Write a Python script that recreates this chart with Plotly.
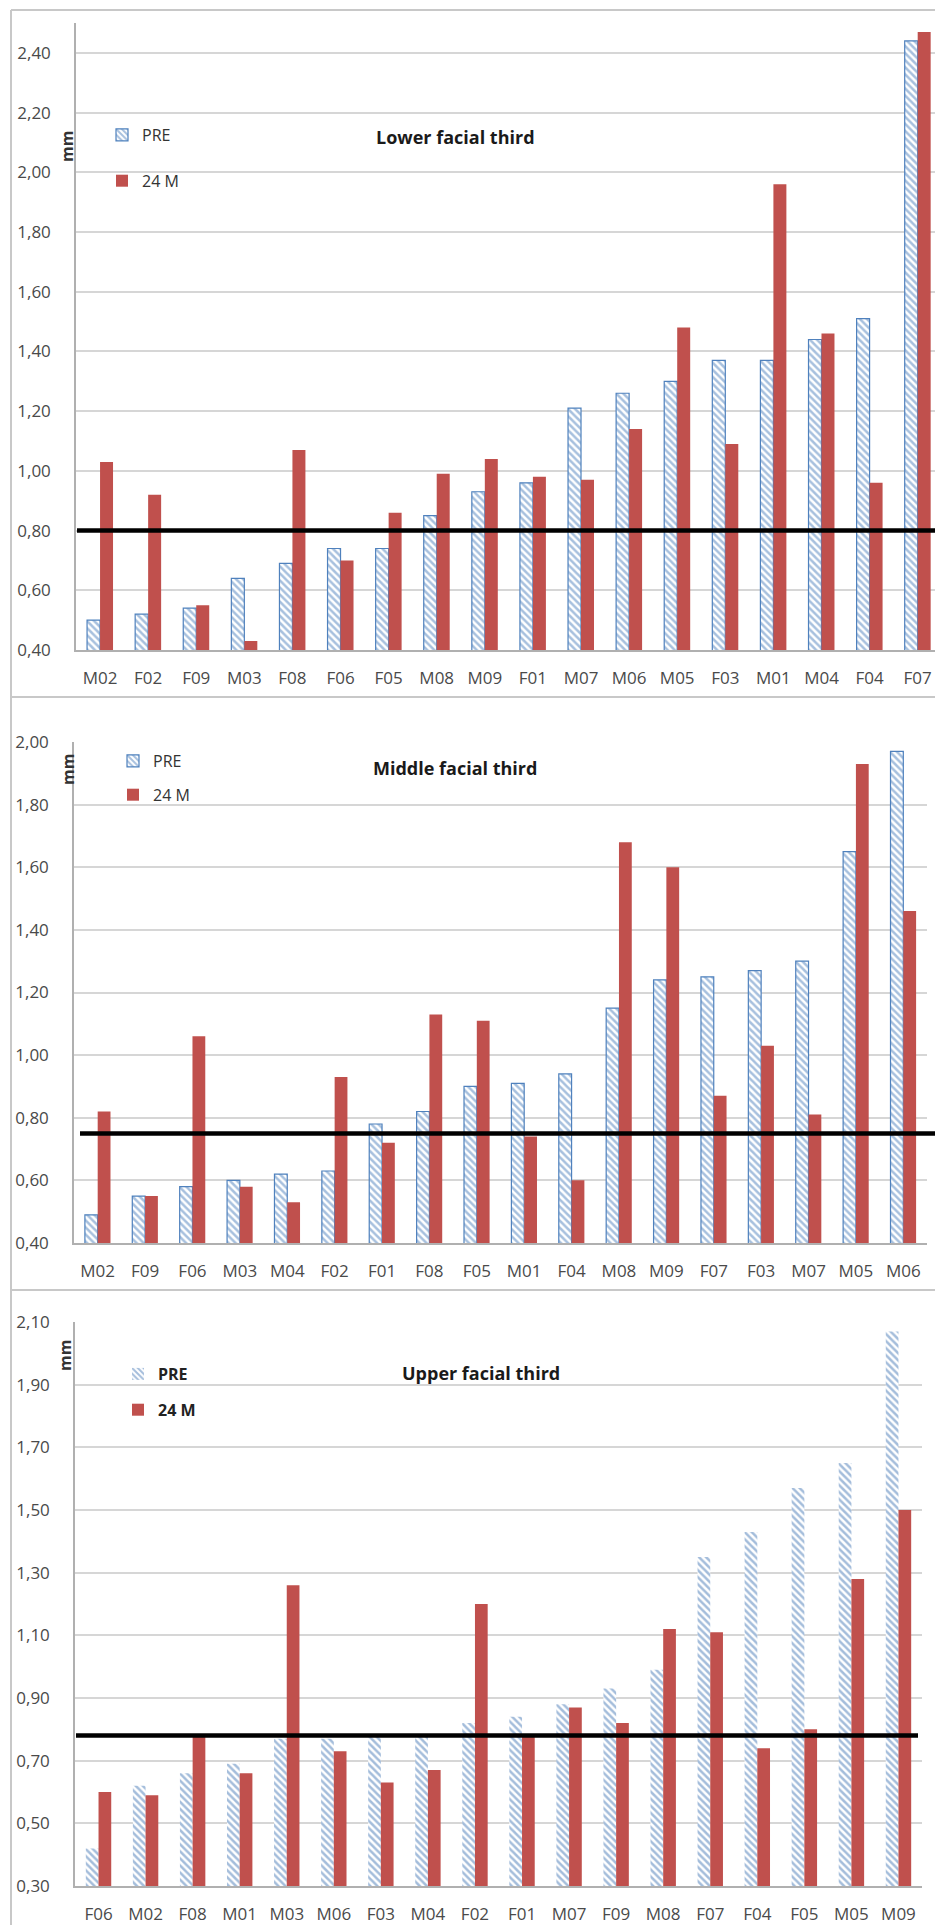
import plotly.graph_objects as go

W, H = 935, 1925

# ---------------- data ----------------
lower_cats = ["M02", "F02", "F09", "M03", "F08", "F06", "F05", "M08", "M09",
              "F01", "M07", "M06", "M05", "F03", "M01", "M04", "F04", "F07"]
lower_pre = [0.50, 0.52, 0.54, 0.64, 0.69, 0.74, 0.74, 0.85, 0.93,
             0.96, 1.21, 1.26, 1.30, 1.37, 1.37, 1.44, 1.51, 2.44]
lower_24m = [1.03, 0.92, 0.55, 0.43, 1.07, 0.70, 0.86, 0.99, 1.04,
             0.98, 0.97, 1.14, 1.48, 1.09, 1.96, 1.46, 0.96, 2.47]

middle_cats = ["M02", "F09", "F06", "M03", "M04", "F02", "F01", "F08", "F05",
               "M01", "F04", "M08", "M09", "F07", "F03", "M07", "M05", "M06"]
middle_pre = [0.49, 0.55, 0.58, 0.60, 0.62, 0.63, 0.78, 0.82, 0.90,
              0.91, 0.94, 1.15, 1.24, 1.25, 1.27, 1.30, 1.65, 1.97]
middle_24m = [0.82, 0.55, 1.06, 0.58, 0.53, 0.93, 0.72, 1.13, 1.11,
              0.74, 0.60, 1.68, 1.60, 0.87, 1.03, 0.81, 1.93, 1.46]

upper_cats = ["F06", "M02", "F08", "M01", "M03", "M06", "F03", "M04", "F02",
              "F01", "M07", "F09", "M08", "F07", "F04", "F05", "M05", "M09"]
upper_pre = [0.42, 0.62, 0.66, 0.69, 0.77, 0.77, 0.78, 0.78, 0.82,
             0.84, 0.88, 0.93, 0.99, 1.35, 1.43, 1.57, 1.65, 2.07]
upper_24m = [0.60, 0.59, 0.78, 0.66, 1.26, 0.73, 0.63, 0.67, 1.20,
             0.78, 0.87, 0.82, 1.12, 1.11, 0.74, 0.80, 1.28, 1.50]

thresholds = [0.80, 0.75, 0.78]
titles = ["Lower facial third", "Middle facial third", "Upper facial third"]
series_names = ["PRE", "24 M"]

# ---------------- style ----------------
BLUE = "#4F81BD"
RED = "#C0504D"
TICK_COLOR = "#4a4a4a"
GRID = "#d6d6d6"
AXIS = "#b0b0b0"
FONT = "Open Sans"


def py(px):
    return 1 - px / H


def px_x(px):
    return px / W


panels = [
    dict(cats=lower_cats, pre=lower_pre, m24=lower_24m, ax="", yr=[0.40, 2.50], tick0=0.40,
         ydom=[py(650), py(23)], xdom=[px_x(76), 1.0], xr=[-0.5, 17.36],
         line_x=[px_x(77), 1.0], legend="legend", pre_line=1.2, leg_bold=False,
         pre_fg=BLUE, sol=0.5),
    dict(cats=middle_cats, pre=middle_pre, m24=middle_24m, ax="2", yr=[0.40, 2.00], tick0=0.40,
         ydom=[py(1243), py(742)], xdom=[px_x(74), px_x(927)], xr=[-0.5, 17.5],
         line_x=[px_x(80), 1.0], legend="legend2", pre_line=1.2, leg_bold=False,
         pre_fg=BLUE, sol=0.5),
    dict(cats=upper_cats, pre=upper_pre, m24=upper_24m, ax="3", yr=[0.30, 2.10], tick0=0.30,
         ydom=[py(1886), py(1322)], xdom=[px_x(75), px_x(922)], xr=[-0.5, 17.5],
         line_x=[px_x(76), px_x(918)], legend="legend3", pre_line=0, leg_bold=True,
         pre_fg="#4a7bb8", sol=0.5),
]

fig = go.Figure()
layout = dict(
    width=W, height=H,
    margin=dict(l=0, r=0, t=0, b=0, autoexpand=False),
    paper_bgcolor="white", plot_bgcolor="white",
    barmode="group", bargap=0.46, bargroupgap=0,
    separators=",.",
    font=dict(family=FONT, color=TICK_COLOR),
    showlegend=True,
)

shapes = []
annotations = []

legend_pos = [
    dict(x=px_x(102), y=py(118), gap=22),
    dict(x=px_x(113), y=py(744), gap=10),
    dict(x=px_x(118), y=py(1357), gap=12),
]
title_pos = [(455, 137), (455, 768), (481, 1373)]
mm_pos = [(67, 147), (68, 770), (65, 1356)]

for i, p in enumerate(panels):
    xa = "x" + p["ax"]
    ya = "y" + p["ax"]
    pre_line = dict(color=BLUE, width=p["pre_line"])
    fig.add_trace(go.Bar(
        x=p["cats"], y=p["pre"], name=series_names[0],
        xaxis=xa, yaxis=ya, legend=p["legend"], legendgroup=f"pre{i}",
        marker=dict(color="white", line=pre_line,
                    pattern=dict(shape="\\", fgcolor=p["pre_fg"], bgcolor="white",
                                 size=5, solidity=p["sol"])),
    ))
    fig.add_trace(go.Bar(
        x=p["cats"], y=p["m24"], name=series_names[1],
        xaxis=xa, yaxis=ya, legend=p["legend"], legendgroup=f"m24{i}",
        marker=dict(color=RED, line=dict(width=0)),
    ))

    xkey = "xaxis" + p["ax"]
    ykey = "yaxis" + p["ax"]
    layout[xkey] = dict(
        domain=p["xdom"], anchor=ya, range=p["xr"], type="category",
        showgrid=False, showline=True, linecolor=AXIS, linewidth=1.5,
        ticks="", tickfont=dict(size=17, color=TICK_COLOR, family=FONT),
        ticklabelstandoff=12, zeroline=False, fixedrange=True, automargin=False,
    )
    layout[ykey] = dict(
        domain=p["ydom"], anchor=xa, range=p["yr"], tick0=p["tick0"], dtick=0.2,
        tickformat=".2f", showgrid=True, gridcolor=GRID, gridwidth=2,
        showline=True, linecolor=AXIS, linewidth=1.5, ticks="",
        tickfont=dict(size=17, color=TICK_COLOR, family=FONT),
        ticklabelstandoff=20, zeroline=False, fixedrange=True, automargin=False,
    )
    lp = legend_pos[i]
    layout[p["legend"]] = dict(
        x=lp["x"], y=lp["y"], xanchor="left", yanchor="top",
        bgcolor="rgba(0,0,0,0)", traceorder="grouped", tracegroupgap=lp["gap"],
        font=dict(size=16, color="#333333" if not p["leg_bold"] else "#222222",
                  family=FONT, weight="bold" if p["leg_bold"] else "normal"),
        itemwidth=30,
    )

    # threshold line
    shapes.append(dict(type="line", xref="paper", yref=ya,
                       x0=p["line_x"][0], x1=p["line_x"][1],
                       y0=thresholds[i], y1=thresholds[i],
                       line=dict(color="black", width=4.5), layer="above"))

    tx, ty = title_pos[i]
    annotations.append(dict(text=f"<b>{titles[i]}</b>", xref="paper", yref="paper",
                            x=px_x(tx), y=py(ty), xanchor="center", yanchor="middle",
                            showarrow=False, font=dict(size=18, color="#1a1a1a", family=FONT)))
    mx, my = mm_pos[i]
    annotations.append(dict(text="<b>mm</b>", xref="paper", yref="paper",
                            x=px_x(mx), y=py(my), xanchor="center", yanchor="middle",
                            textangle=-90, showarrow=False,
                            font=dict(size=16, color="#333333", family=FONT)))

# panel borders
BORDER = "#c8c8c8"
for yb in [10, 697, 1290]:
    shapes.append(dict(type="line", xref="paper", yref="paper",
                       x0=px_x(11), x1=1.0, y0=py(yb), y1=py(yb),
                       line=dict(color=BORDER, width=2), layer="below"))
shapes.append(dict(type="line", xref="paper", yref="paper",
                   x0=px_x(11), x1=px_x(11), y0=py(10), y1=0.0,
                   line=dict(color=BORDER, width=2), layer="below"))

layout["shapes"] = shapes
layout["annotations"] = annotations
fig.update_layout(**layout)

fig.write_html(
    "out.html",
    config={"displayModeBar": False, "staticPlot": False},
    post_script="document.body.style.margin='0px';document.body.style.padding='0px';"
                "document.documentElement.style.overflow='hidden';",
)
